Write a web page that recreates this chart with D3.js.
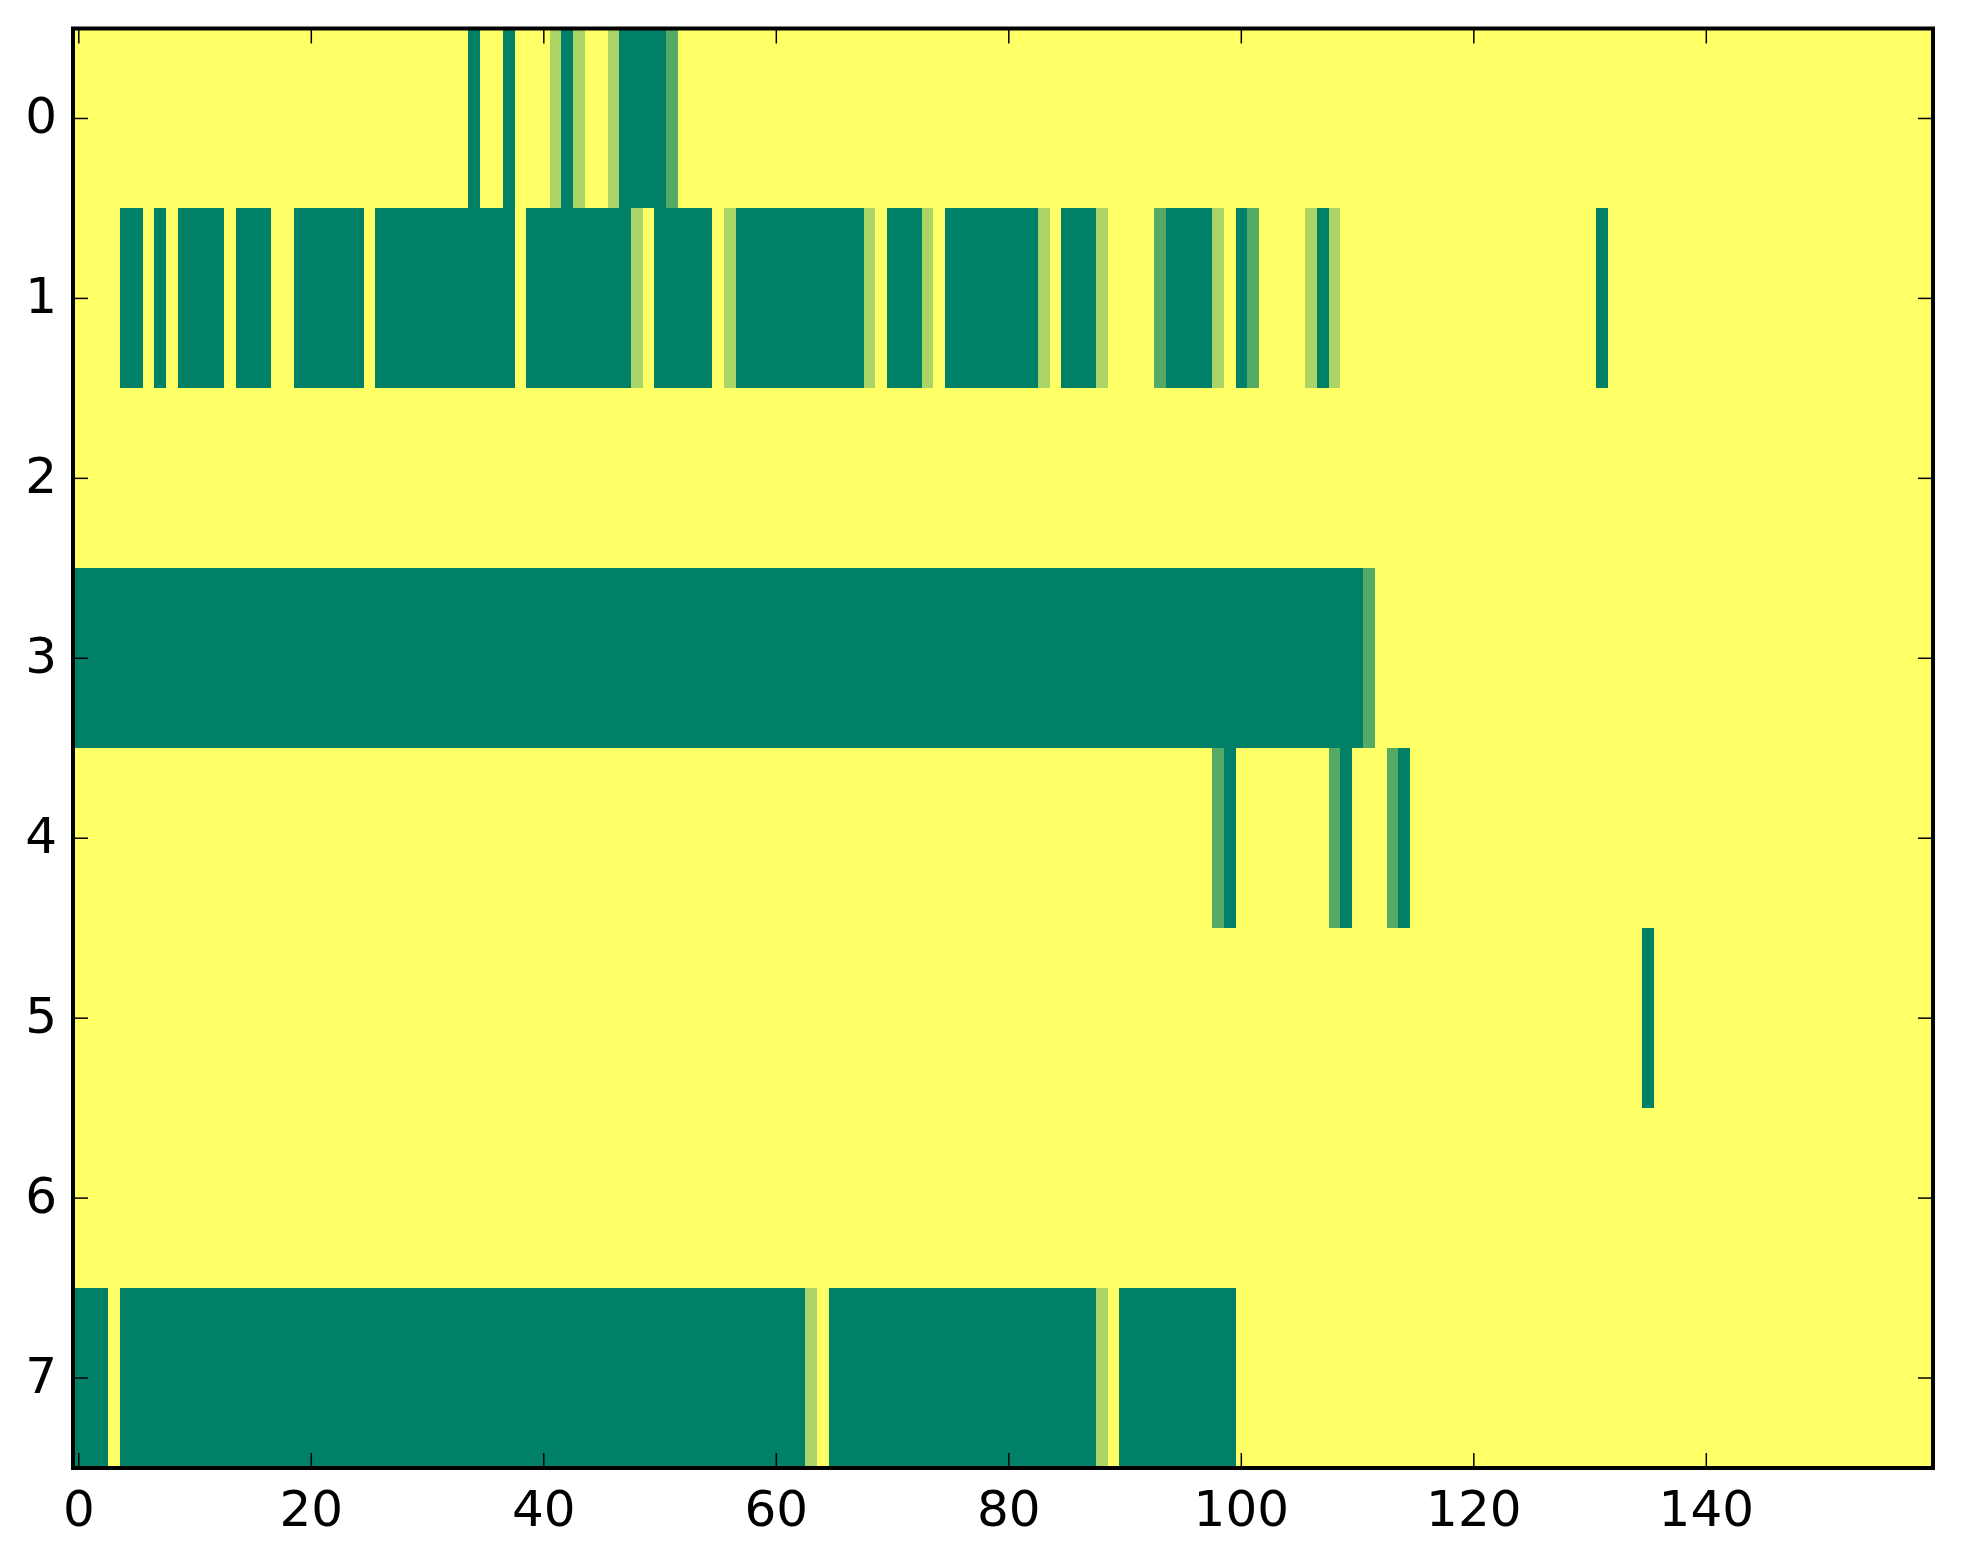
<!DOCTYPE html>
<html>
<head>
<meta charset="utf-8">
<script src="https://cdn.jsdelivr.net/npm/d3@7"></script>
<style>
  body { margin: 0; background: #fff; }
  text { font-family: "DejaVu Sans", sans-serif; }
</style>
</head>
<body>
<div id="chart"></div>
<script>
// cell codes: 0 -> 0, 1 -> 1/3, 2 -> 2/3, 3 -> 1  (groups of 10 columns)
const levels = [0, 1 / 3, 2 / 3, 1];

const row0 = "0000000000 0000000000 0000000000 0000300300 0131001333 3200000000 0000000000 0000000000 0000000000 0000000000 0000000000 0000000000 0000000000 0000000000 0000000000 0000000000";
const row1 = "0000330303 3330333003 3333303333 3333333303 3333333310 3333301333 3333333310 3331033333 3331033310 0002333310 3200001310 0000000000 0000000000 0300000000 0000000000 0000000000";
const row2 = "0000000000 0000000000 0000000000 0000000000 0000000000 0000000000 0000000000 0000000000 0000000000 0000000000 0000000000 0000000000 0000000000 0000000000 0000000000 0000000000";
const row3 = "3333333333 3333333333 3333333333 3333333333 3333333333 3333333333 3333333333 3333333333 3333333333 3333333333 3333333333 3200000000 0000000000 0000000000 0000000000 0000000000";
const row4 = "0000000000 0000000000 0000000000 0000000000 0000000000 0000000000 0000000000 0000000000 0000000000 0000000023 0000000023 0002300000 0000000000 0000000000 0000000000 0000000000";
const row5 = "0000000000 0000000000 0000000000 0000000000 0000000000 0000000000 0000000000 0000000000 0000000000 0000000000 0000000000 0000000000 0000000000 0000030000 0000000000 0000000000";
const row6 = "0000000000 0000000000 0000000000 0000000000 0000000000 0000000000 0000000000 0000000000 0000000000 0000000000 0000000000 0000000000 0000000000 0000000000 0000000000 0000000000";
const row7 = "3330333333 3333333333 3333333333 3333333333 3333333333 3333333333 3331033333 3333333333 3333333310 3333333333 0000000000 0000000000 0000000000 0000000000 0000000000 0000000000";

const rows = [row0, row1, row2, row3, row4, row5, row6, row7];
const xTicks = [0, 20, 40, 60, 80, 100, 120, 140];
const yTicks = [0, 1, 2, 3, 4, 5, 6, 7];

const nCols = 160, nRows = rows.length;

const cells = [];
rows.forEach((r, i) => {
  r.replace(/ /g, "").split("").forEach((ch, j) => {
    cells.push({ row: i, col: j, value: levels[+ch] });
  });
});

const W = 1963, H = 1564;
const margin = { left: 73, right: 1933, top: 28.5, bottom: 1468 };

const svg = d3.select("#chart")
  .append("svg")
    .attr("width", W)
    .attr("height", H);

const x = d3.scaleLinear()
  .domain([-0.5, nCols - 0.5])
  .range([margin.left, margin.right]);

const y = d3.scaleLinear()
  .domain([-0.5, nRows - 0.5])
  .range([margin.top, margin.bottom]);

// summer_r colormap
const color = d3.scaleLinear()
  .domain([0, 1])
  .range(["#ffff66", "#008066"]);

svg.append("g")
  .attr("shape-rendering", "crispEdges")
  .selectAll("rect")
  .data(cells)
  .enter()
  .append("rect")
    .attr("x", d => x(d.col - 0.5))
    .attr("y", d => y(d.row - 0.5))
    .attr("width", d => x(d.col + 0.5) - x(d.col - 0.5) + 0.5)
    .attr("height", d => y(d.row + 0.5) - y(d.row - 0.5) + 0.5)
    .attr("fill", d => color(d.value));

const tickLen = 15;

// inward ticks on all four sides
const tk = svg.append("g").attr("stroke", "#000").attr("stroke-width", 1.5);
xTicks.forEach(t => {
  tk.append("line").attr("x1", x(t)).attr("x2", x(t)).attr("y1", margin.bottom).attr("y2", margin.bottom - tickLen);
  tk.append("line").attr("x1", x(t)).attr("x2", x(t)).attr("y1", margin.top).attr("y2", margin.top + tickLen);
});
yTicks.forEach(t => {
  tk.append("line").attr("y1", y(t)).attr("y2", y(t)).attr("x1", margin.left).attr("x2", margin.left + tickLen);
  tk.append("line").attr("y1", y(t)).attr("y2", y(t)).attr("x1", margin.right).attr("x2", margin.right - tickLen);
});

svg.append("g")
  .selectAll("text")
  .data(xTicks)
  .enter()
  .append("text")
    .attr("x", d => x(d))
    .attr("y", margin.bottom + 58)
    .attr("text-anchor", "middle")
    .attr("font-size", 50)
    .text(d => d);

svg.append("g")
  .selectAll("text")
  .data(yTicks)
  .enter()
  .append("text")
    .attr("x", margin.left - 16)
    .attr("y", d => y(d) + 15)
    .attr("text-anchor", "end")
    .attr("font-size", 50)
    .text(d => d);

// frame
svg.append("rect")
  .attr("x", margin.left)
  .attr("y", margin.top)
  .attr("width", margin.right - margin.left)
  .attr("height", margin.bottom - margin.top)
  .attr("fill", "none")
  .attr("stroke", "#000")
  .attr("stroke-width", 4);
</script>
</body>
</html>
